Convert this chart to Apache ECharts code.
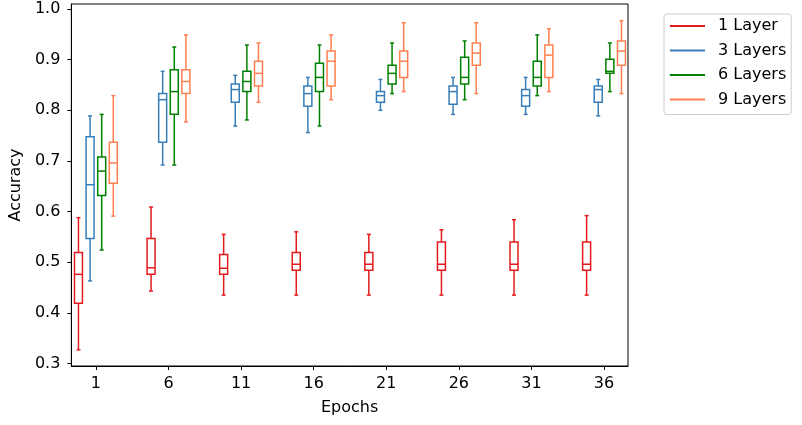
<!DOCTYPE html>
<html>
<head>
<meta charset="utf-8">
<script src="https://cdn.jsdelivr.net/npm/echarts@6/dist/echarts.min.js"></script>
<style>html,body{margin:0;padding:0;background:#fff}#c{width:802px;height:425px}</style>
</head>
<body>
<div id="c"></div>
<script>
// Data: each row is [epoch, whiskerLow, q1, median, q3, whiskerHigh]
const epochs = [1, 6, 11, 16, 21, 26, 31, 36];
const yTicks = [0.3, 0.4, 0.5, 0.6, 0.7, 0.8, 0.9, 1.0];
const seriesNames = ['1 Layer', '3 Layers', '6 Layers', '9 Layers'];

const layer1 = [
  [1, 0.327, 0.419, 0.476, 0.519, 0.588],
  [6, 0.443, 0.476, 0.489, 0.547, 0.609],
  [11, 0.435, 0.476, 0.488, 0.515, 0.555],
  [16, 0.435, 0.484, 0.496, 0.519, 0.560],
  [21, 0.435, 0.484, 0.496, 0.519, 0.555],
  [26, 0.435, 0.484, 0.496, 0.540, 0.564],
  [31, 0.435, 0.484, 0.496, 0.540, 0.584],
  [36, 0.435, 0.484, 0.496, 0.540, 0.592]
];
const layer3 = [
  [1, 0.463, 0.547, 0.653, 0.748, 0.789],
  [6, 0.692, 0.737, 0.821, 0.833, 0.877],
  [11, 0.769, 0.816, 0.841, 0.852, 0.869],
  [16, 0.756, 0.808, 0.833, 0.848, 0.865],
  [21, 0.800, 0.816, 0.829, 0.837, 0.861],
  [26, 0.792, 0.812, 0.837, 0.848, 0.865],
  [31, 0.792, 0.808, 0.829, 0.841, 0.865],
  [36, 0.789, 0.816, 0.841, 0.848, 0.861]
];
const layer6 = [
  [1, 0.524, 0.632, 0.680, 0.708, 0.792],
  [6, 0.692, 0.792, 0.837, 0.880, 0.925],
  [11, 0.781, 0.837, 0.857, 0.877, 0.929],
  [16, 0.769, 0.837, 0.865, 0.893, 0.929],
  [21, 0.833, 0.852, 0.873, 0.889, 0.933],
  [26, 0.821, 0.852, 0.865, 0.905, 0.937],
  [31, 0.829, 0.848, 0.865, 0.897, 0.949],
  [36, 0.837, 0.873, 0.877, 0.901, 0.933]
];
const layer9 = [
  [1, 0.591, 0.656, 0.696, 0.737, 0.829],
  [6, 0.777, 0.833, 0.857, 0.880, 0.949],
  [11, 0.816, 0.848, 0.873, 0.897, 0.933],
  [16, 0.821, 0.848, 0.897, 0.917, 0.949],
  [21, 0.837, 0.865, 0.897, 0.917, 0.973],
  [26, 0.833, 0.889, 0.913, 0.933, 0.973],
  [31, 0.837, 0.865, 0.909, 0.929, 0.961],
  [36, 0.833, 0.889, 0.917, 0.937, 0.977]
];

const allData = [layer1, layer3, layer6, layer9];
const colors = ['#e41a1c', '#377eb8', '#008000', '#ff7f50'];
const offsets = [-1.2, -0.4, 0.4, 1.2];
const boxW = 0.55;
const FONT = 'DejaVu Sans';
const FS = 16;

function makeRender(si) {
  return function (params, api) {
    const x = api.value(0) + offsets[si];
    const lo = api.coord([x, api.value(1)]);
    const q1 = api.coord([x, api.value(2)]);
    const md = api.coord([x, api.value(3)]);
    const q3 = api.coord([x, api.value(4)]);
    const hi = api.coord([x, api.value(5)]);
    const w = api.size([boxW, 0])[0];
    const cx = lo[0];
    const c = colors[si];
    const st = { stroke: c, lineWidth: 1.5, fill: null };
    const line = (x1, y1, x2, y2) => ({ type: 'line', shape: { x1, y1, x2, y2 }, style: st });
    return {
      type: 'group',
      children: [
        line(cx, lo[1], cx, q1[1]),
        line(cx, q3[1], cx, hi[1]),
        line(cx - w / 4, lo[1], cx + w / 4, lo[1]),
        line(cx - w / 4, hi[1], cx + w / 4, hi[1]),
        { type: 'rect', shape: { x: cx - w / 2, y: q3[1], width: w, height: q1[1] - q3[1] }, style: st },
        line(cx - w / 2, md[1], cx + w / 2, md[1])
      ]
    };
  };
}

const chart = echarts.init(document.getElementById('c'), null, { renderer: 'canvas' });
chart.setOption({
  animation: false,
  backgroundColor: '#fff',
  grid: { left: 71, right: 174, top: 4, bottom: 59, show: true, borderColor: '#000', borderWidth: 1 },
  legend: {
    orient: 'vertical',
    left: 664, top: 14,
    data: seriesNames,
    icon: 'rect',
    itemWidth: 35, itemHeight: 2, itemGap: 8.5,
    padding: [4, 5, 7, 6],
    borderColor: '#cccccc', borderWidth: 1, borderRadius: 3,
    textStyle: { fontFamily: FONT, fontSize: FS, color: '#000', padding: [0, 0, 0, 8], lineHeight: 16 }
  },
  xAxis: {
    type: 'value', min: -0.69, max: 37.65,
    name: 'Epochs', nameLocation: 'middle', nameGap: 34,
    nameTextStyle: { fontFamily: FONT, fontSize: FS, color: '#000' },
    axisLine: { onZero: false, lineStyle: { color: '#000', width: 1 } },
    axisTick: { show: true, length: 4, lineStyle: { color: '#000' }, customValues: epochs },
    axisLabel: { fontFamily: FONT, fontSize: FS, color: '#000', margin: 10, customValues: epochs },
    splitLine: { show: false }
  },
  yAxis: {
    type: 'value', min: 0.295, max: 1.01,
    name: 'Accuracy', nameLocation: 'middle', nameGap: 44,
    nameTextStyle: { fontFamily: FONT, fontSize: FS, color: '#000' },
    axisLine: { show: true, onZero: false, lineStyle: { color: '#000', width: 1 } },
    axisTick: { show: true, length: 4, lineStyle: { color: '#000' }, customValues: yTicks },
    axisLabel: { fontFamily: FONT, fontSize: FS, color: '#000', margin: 11, customValues: yTicks, formatter: v => v.toFixed(1) },
    splitLine: { show: false }
  },
  series: allData.map((d, i) => ({
    type: 'custom',
    name: seriesNames[i],
    itemStyle: { color: colors[i] },
    renderItem: makeRender(i),
    encode: { x: 0, y: [1, 5] },
    data: d
  }))
});
</script>
</body>
</html>
